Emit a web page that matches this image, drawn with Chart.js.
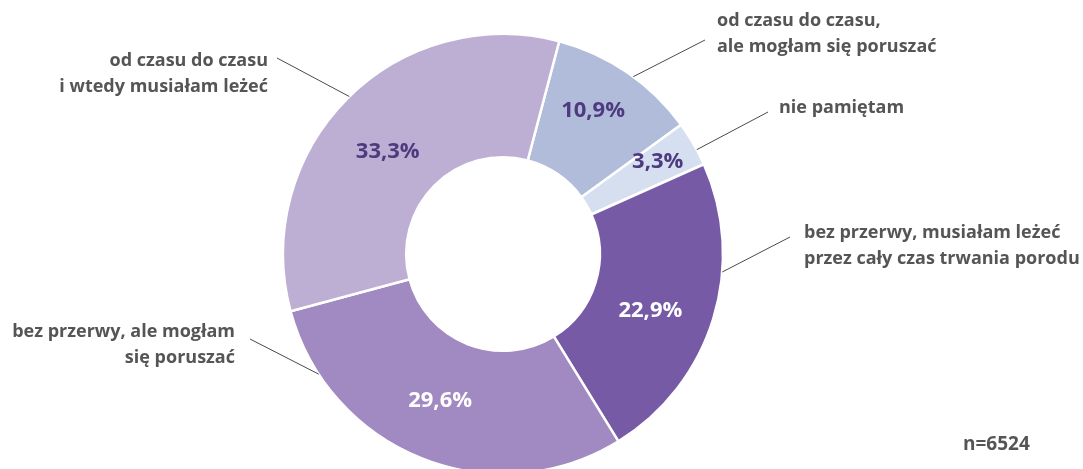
<!DOCTYPE html>
<html>
<head>
<meta charset="utf-8">
<script src="https://cdn.jsdelivr.net/npm/chart.js@4/dist/chart.umd.min.js"></script>
<style>
html,body{margin:0;padding:0;background:#fff;}
#wrap{position:relative;width:1083px;height:469px;}
</style>
</head>
<body>
<div id="wrap"><canvas id="c" width="1083" height="469"></canvas></div>
<script>
// ---- data ----
const categories = [
  "od czasu do czasu,\nale mogłam się poruszać",
  "nie pamiętam",
  "bez przerwy, musiałam leżeć\nprzez cały czas trwania porodu",
  "bez przerwy, ale mogłam\nsię poruszać",
  "od czasu do czasu\ni wtedy musiałam leżeć"
];
const values = [10.9, 3.3, 22.9, 29.6, 33.3];
const sampleNote = "n=6524";

// ---- style ----
const colors = ["#b0bcd9", "#d5dff0", "#765aa6", "#a18ac1", "#bdaed4"];
const valueLabelColors = ["#4e3b7f", "#4e3b7f", "#ffffff", "#ffffff", "#4e3b7f"];
const valueLabelRadius = [169, 180, 158, 160, 154];      // px from centre
const valueLabelAngleShift = [-2.2, -0.7, 4, 1.5, -3.3];   // degrees
const leaderAngle = [36.3, 61.7, 94.7, 236.9, 315.7];    // degrees from top, clockwise
const labelAnchor = [ // text anchor [x, y(first line centre), align]
  [717, 21, "left"],
  [779, 108, "left"],
  [804, 233, "left"],
  [235, 332, "right"],
  [268, 61, "right"]
];
const leaderOuter = [[705, 40], [768, 112], [790, 237], [250, 339], [277, 58]];
const FONT = "'Open Sans', Lato, sans-serif";

const overlay = {
  id: "overlay",
  afterDatasetsDraw(chart) {
    const ctx = chart.ctx;
    const meta = chart.getDatasetMeta(0);
    ctx.save();
    meta.data.forEach((arc, i) => {
      const p = arc.getProps(["x", "y", "startAngle", "endAngle", "outerRadius"], true);
      // value label
      const mid = (p.startAngle + p.endAngle) / 2 + valueLabelAngleShift[i] * Math.PI / 180;
      const r = valueLabelRadius[i];
      ctx.font = "700 22px " + FONT;
      ctx.fillStyle = valueLabelColors[i];
      ctx.textAlign = "center";
      ctx.textBaseline = "middle";
      ctx.fillText(values[i].toFixed(1).replace(".", ",") + "%", p.x + Math.cos(mid) * r, p.y + Math.sin(mid) * r);
      // leader line
      const a = (leaderAngle[i] - 90) * Math.PI / 180;
      const ix = p.x + Math.cos(a) * p.outerRadius;
      const iy = p.y + Math.sin(a) * p.outerRadius;
      ctx.strokeStyle = "#4a4a4a";
      ctx.lineWidth = 1;
      ctx.beginPath();
      ctx.moveTo(ix, iy);
      ctx.lineTo(leaderOuter[i][0], leaderOuter[i][1]);
      ctx.stroke();
      // category label
      ctx.font = "700 18px " + FONT;
      ctx.fillStyle = "#555555";
      ctx.textAlign = labelAnchor[i][2];
      ctx.textBaseline = "middle";
      categories[i].split("\n").forEach((line, k) => {
        ctx.fillText(line, labelAnchor[i][0], labelAnchor[i][1] + k * 26);
      });
    });
    ctx.font = "700 19px " + FONT;
    ctx.fillStyle = "#555555";
    ctx.textAlign = "left";
    ctx.textBaseline = "middle";
    ctx.fillText(sampleNote, 963, 445);
    ctx.restore();
  }
};

new Chart(document.getElementById("c"), {
  type: "doughnut",
  data: {
    labels: categories,
    datasets: [{
      data: values,
      backgroundColor: colors,
      borderColor: "#ffffff",
      borderWidth: 2.5,
      hoverOffset: 0
    }]
  },
  options: {
    responsive: false,
    animation: false,
    events: [],
    rotation: 14.8,
    cutout: "44%",
    radius: 220,
    layout: { padding: { left: 288, right: 365, top: 39, bottom: 0 } },
    plugins: { legend: { display: false }, tooltip: { enabled: false } }
  },
  plugins: [overlay]
});
</script>
</body>
</html>
